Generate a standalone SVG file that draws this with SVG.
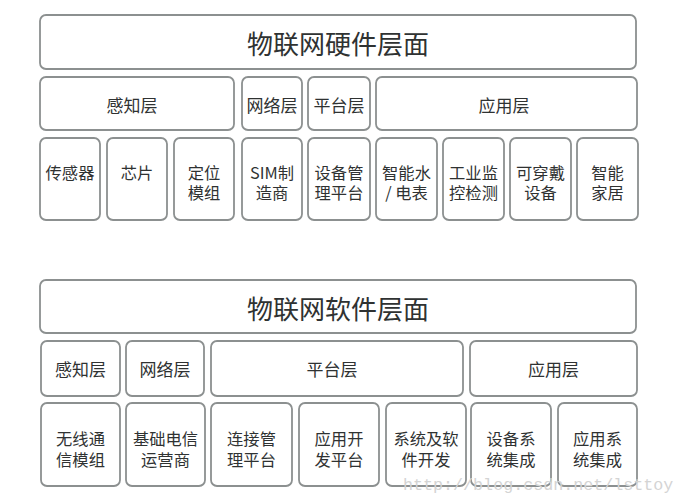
<svg xmlns="http://www.w3.org/2000/svg" width="685" height="504" viewBox="0 0 685 504">
<style>
rect{fill:#fff;stroke:#8c9090;stroke-width:1.8}
text{font-family:"Noto Sans CJK SC","Noto Sans",sans-serif;fill:#2f3232;text-anchor:middle;dominant-baseline:central}
.t{font-size:26px}
.l{font-size:17px}
.c{font-size:16.3px}
.wm{font-family:"Liberation Mono",monospace;font-size:16.7px;fill:#d4d4d4;text-anchor:start;dominant-baseline:auto}
</style>
<rect x="0" y="0" width="685" height="504" style="fill:#fff;stroke:none"/>
<g id="hw">
<g id="hw-title"><rect x="40" y="15" width="596" height="54" rx="6"/><text class="t" x="338" y="42">物联网硬件层面</text></g>
<g id="hw-sense"><rect x="40" y="77" width="194" height="53" rx="6"/><text class="l" x="132" y="104">感知层</text></g>
<g id="hw-net"><rect x="242" y="77" width="60" height="53" rx="6"/><text class="l" x="272" y="104">网络层</text></g>
<g id="hw-plat"><rect x="308" y="77" width="62" height="53" rx="6"/><text class="l" x="339" y="104">平台层</text></g>
<g id="hw-app"><rect x="376" y="77" width="261" height="53" rx="6"/><text class="l" x="504" y="104">应用层</text></g>
<g id="hw-1"><rect x="40" y="138" width="60" height="82" rx="6"/><text class="c" x="70" y="172">传感器</text></g>
<g id="hw-2"><rect x="107" y="138" width="60" height="82" rx="6"/><text class="c" x="137" y="172">芯片</text></g>
<g id="hw-3"><rect x="174" y="138" width="60" height="82" rx="6"/><text class="c" x="204" y="172">定位<tspan x="204" dy="20">模组</tspan></text></g>
<g id="hw-4"><rect x="242" y="138" width="60" height="82" rx="6"/><text class="c" x="272" y="172">SIM制<tspan x="272" dy="20">造商</tspan></text></g>
<g id="hw-5"><rect x="308" y="138" width="62" height="82" rx="6"/><text class="c" x="339" y="172">设备管<tspan x="339" dy="20">理平台</tspan></text></g>
<g id="hw-6"><rect x="376" y="138" width="61" height="82" rx="6"/><text class="c" x="406.5" y="172">智能水<tspan x="406.5" dy="20">/ 电表</tspan></text></g>
<g id="hw-7"><rect x="443" y="138" width="61" height="82" rx="6"/><text class="c" x="473.5" y="172">工业监<tspan x="473.5" dy="20">控检测</tspan></text></g>
<g id="hw-8"><rect x="510" y="138" width="61" height="82" rx="6"/><text class="c" x="540.5" y="172">可穿戴<tspan x="540.5" dy="20">设备</tspan></text></g>
<g id="hw-9"><rect x="577" y="138" width="61" height="82" rx="6"/><text class="c" x="607.5" y="172">智能<tspan x="607.5" dy="20">家居</tspan></text></g>
</g>
<g id="sw">
<g id="sw-title"><rect x="40" y="280" width="596" height="53" rx="6"/><text class="t" x="338" y="307">物联网软件层面</text></g>
<g id="sw-sense"><rect x="41" y="341" width="79" height="55" rx="6"/><text class="l" x="80.5" y="368">感知层</text></g>
<g id="sw-net"><rect x="126" y="341" width="78" height="55" rx="6"/><text class="l" x="165" y="368">网络层</text></g>
<g id="sw-plat"><rect x="211" y="341" width="252" height="55" rx="6"/><text class="l" x="332" y="368">平台层</text></g>
<g id="sw-app"><rect x="470" y="341" width="167" height="55" rx="6"/><text class="l" x="553.5" y="368">应用层</text></g>
<g id="sw-1"><rect x="41" y="403" width="79" height="83" rx="6"/><text class="c" x="80.5" y="438">无线通<tspan x="80.5" dy="21">信模组</tspan></text></g>
<g id="sw-2"><rect x="126" y="403" width="79" height="83" rx="6"/><text class="c" x="165.5" y="438">基础电信<tspan x="165.5" dy="21">运营商</tspan></text></g>
<g id="sw-3"><rect x="211" y="403" width="81" height="83" rx="6"/><text class="c" x="251.5" y="438">连接管<tspan x="251.5" dy="21">理平台</tspan></text></g>
<g id="sw-4"><rect x="299" y="403" width="80" height="83" rx="6"/><text class="c" x="339" y="438">应用开<tspan x="339" dy="21">发平台</tspan></text></g>
<g id="sw-5"><rect x="386" y="403" width="80" height="83" rx="6"/><text class="c" x="426" y="438">系统及软<tspan x="426" dy="21">件开发</tspan></text></g>
<g id="sw-6"><rect x="471" y="403" width="80" height="83" rx="6"/><text class="c" x="511" y="438">设备系<tspan x="511" dy="21">统集成</tspan></text></g>
<g id="sw-7"><rect x="558" y="403" width="79" height="83" rx="6"/><text class="c" x="597.5" y="438">应用系<tspan x="597.5" dy="21">统集成</tspan></text></g>
</g>
<g id="connectors"/>
<text class="wm" x="403" y="490">http://blog.csdn.net/lsttoy</text>
</svg>
